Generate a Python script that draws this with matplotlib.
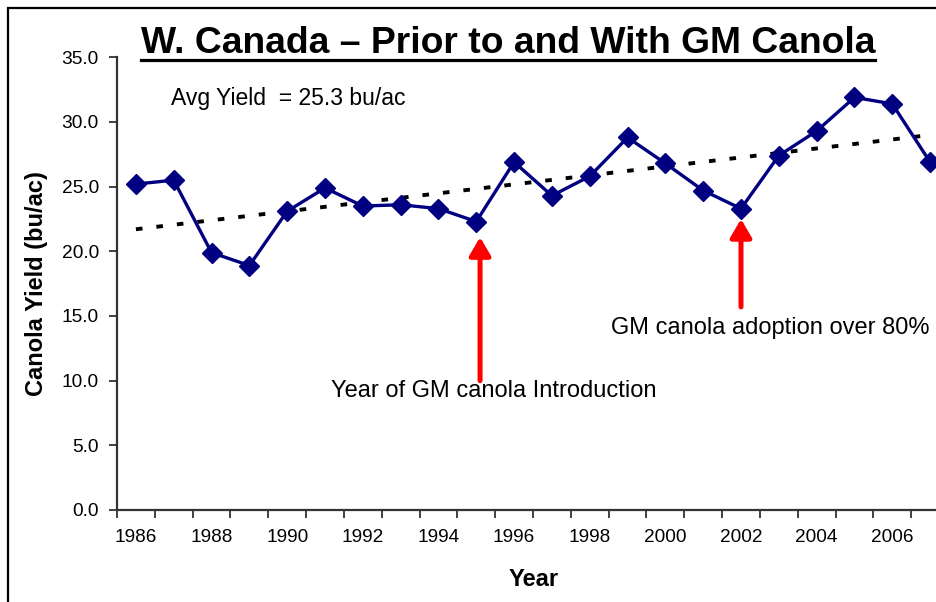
import matplotlib
matplotlib.use("Agg")
import matplotlib.pyplot as plt
from matplotlib.lines import Line2D
from matplotlib.patches import Rectangle
from matplotlib.ticker import FormatStrFormatter
import numpy as np

years = list(range(1986, 2008))
yields = [25.2, 25.5, 19.9, 18.9, 23.1, 24.9, 23.5, 23.6, 23.3, 22.3, 26.9,
          24.3, 25.8, 28.8, 26.8, 24.7, 23.3, 27.4, 29.3, 31.9, 31.4, 26.9]
year_labels = list(range(1986, 2007, 2))

title = "W. Canada \u2013 Prior to and With GM Canola"
avg_text = "Avg Yield  = 25.3 bu/ac"
intro_text = "Year of GM canola Introduction"
adopt_text = "GM canola adoption over 80%"

# arrows: (x, tail y, tip y)
intro_arrow = (1995.1, 10.0, 21.1)
adopt_arrow = (2002.0, 15.7, 22.5)

W, H = 937, 602
plt.rcParams['font.family'] = ['Liberation Sans', 'DejaVu Sans']


def px(x, y):
    # pixel position (from top-left) -> figure fraction
    return x / W, 1 - y / H


fig = plt.figure(figsize=(W / 100, H / 100), dpi=100)
ax = fig.add_axes([117 / W, (H - 510) / H, 832 / W, 452.7 / H])

ax.plot(years, yields, color='#000080', lw=2.4, marker='D', ms=10,
        markeredgecolor='#000080', zorder=3)

# linear trend line
coef = np.polyfit(years, yields, 1)
trend = np.polyval(coef, years)
ax.plot(years, trend, color='black', lw=2.8, linestyle=(0, (1.7, 3.6)),
        dash_capstyle='butt', zorder=2)

for x, y0, y1 in (intro_arrow, adopt_arrow):
    ax.annotate('', xy=(x, y1), xytext=(x, y0),
                arrowprops=dict(arrowstyle='-|>,head_length=0.55,head_width=0.32',
                                color='#ff0000', lw=3.6, mutation_scale=20,
                                shrinkA=0, shrinkB=0))

ax.set_xlim(1985.5, 2007.5)
ax.set_ylim(0, 35)
ax.set_yticks(np.arange(0, 35.1, 5))
ax.yaxis.set_major_formatter(FormatStrFormatter('%.1f'))
ax.set_xticks(np.arange(1985.5, 2008, 1))
ax.set_xticklabels([])
ax.set_xticks(year_labels, minor=True)
ax.set_xticklabels([str(y) for y in year_labels], minor=True)
ax.tick_params(axis='x', which='major', direction='out', length=6, width=1.3,
               color='#333333')
ax.tick_params(axis='x', which='minor', length=0, pad=14, labelsize=13.7)
ax.tick_params(axis='y', direction='out', length=6, width=1.3, color='#333333',
               pad=7, labelsize=13.8)
for s in ('top', 'right'):
    ax.spines[s].set_visible(False)
for s in ('left', 'bottom'):
    ax.spines[s].set_linewidth(1.6)
    ax.spines[s].set_color('#333333')

# frame around the chart (cut off at right and bottom)
fig.patches.append(Rectangle((8.5 / W, -0.2), 2, 1.2 - 8.5 / H, fill=False,
                             lw=1.6, edgecolor='black',
                             transform=fig.transFigure, figure=fig))

t = fig.text(*px(508, 53), title, ha='center', va='baseline', fontsize=26.8,
             fontweight='bold')
fig.text(*px(171, 98), avg_text, ha='left', va='center', fontsize=16.5)
fig.text(*px(331, 391), intro_text, ha='left', va='center', fontsize=17)
fig.text(*px(611, 328), adopt_text, ha='left', va='center', fontsize=17)
fig.text(*px(37, 284), "Canola Yield (bu/ac)", rotation=90, ha='center',
         va='center', fontsize=17, fontweight='bold')
fig.text(*px(534, 579), "Year", ha='center', va='center', fontsize=17,
         fontweight='bold')

# underline the title
fig.canvas.draw()
bb = t.get_window_extent()
uy = 1 - 59.5 / H
fig.add_artist(Line2D([bb.x0 / W, bb.x1 / W], [uy, uy], color='black', lw=2.3,
                      transform=fig.transFigure))

fig.savefig("out.png", dpi=100)
